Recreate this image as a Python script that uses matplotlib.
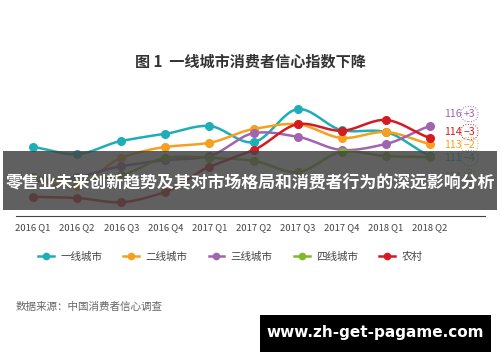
import numpy as np
import matplotlib
matplotlib.use("Agg")
import matplotlib.pyplot as plt
from matplotlib.patches import Rectangle
from matplotlib.lines import Line2D

plt.rcParams['font.family'] = ['Noto Sans CJK SC', 'DejaVu Sans']

quarters = ['2016 Q1', '2016 Q2', '2016 Q3', '2016 Q4', '2017 Q1',
            '2017 Q2', '2017 Q3', '2017 Q4', '2018 Q1', '2018 Q2']
series_names = ['一线城市', '二线城市', '三线城市', '四线城市', '农村']
tier1 = [112.5, 111.3, 113.5, 114.7, 116.0, 113.3, 118.8, 115.3, 115.0, 111.0]
tier2 = [107.0, 106.0, 110.7, 112.5, 113.2, 115.5, 116.3, 114.0, 115.0, 113.0]
tier3 = [106.7, 107.5, 109.3, 110.3, 111.0, 114.8, 114.2, 112.0, 113.0, 116.0]
tier4 = [107.5, 107.0, 107.8, 110.7, 110.7, 110.2, 108.3, 111.7, 111.0, 110.8]
rural = [104.2, 104.0, 103.3, 105.0, 109.2, 112.0, 116.3, 115.2, 117.0, 114.0]
end_labels = [('116', '+3'), ('114', '−3'), ('113', '−2'), ('111', '−4'), ('111', '0')]
colors = ['#1eaeb8', '#f5a01e', '#a064b0', '#80b82c', '#d41a22']

title = '图 1  一线城市消费者信心指数下降'
source = '数据来源：中国消费者信心调查'
banner = '零售业未来创新趋势及其对市场格局和消费者行为的深远影响分析'
watermark = 'www.zh-get-pagame.com'

W, H = 500, 362
fig = plt.figure(figsize=(W / 100, H / 100), dpi=100)
fig.patch.set_facecolor('white')

def fx(px):
    return px / W

def fy(py):
    return 1 - py / H

# axes: x-axis line at y=216 px, from x=16 to 485
ax = fig.add_axes([fx(16), fy(216), (485 - 16) / W, (216 - 100) / H])
ax.set_xlim(-0.385, 10.247)
ax.set_ylim(101, 120.33)
for s in ['top', 'right', 'left']:
    ax.spines[s].set_visible(False)
ax.spines['bottom'].set_color('#444444')
ax.spines['bottom'].set_linewidth(0.8)
ax.set_yticks([])
x = np.arange(len(quarters))
ax.set_xticks(x)
ax.set_xticklabels(quarters, fontsize=6.8, color='#444444')
ax.tick_params(axis='x', length=0, pad=5)
ax.patch.set_alpha(0)


def smooth(xs, ys, n=20):
    xs = np.asarray(xs, float)
    ys = np.asarray(ys, float)
    pts_x, pts_y = [], []
    m = np.zeros_like(ys)
    m[1:-1] = (ys[2:] - ys[:-2]) / 2.0
    m[0] = ys[1] - ys[0]
    m[-1] = ys[-1] - ys[-2]
    m *= 0.8
    for i in range(len(xs) - 1):
        t = np.linspace(0, 1, n, endpoint=False)
        h00 = 2 * t**3 - 3 * t**2 + 1
        h10 = t**3 - 2 * t**2 + t
        h01 = -2 * t**3 + 3 * t**2
        h11 = t**3 - t**2
        pts_x.append(xs[i] + t * (xs[i + 1] - xs[i]))
        pts_y.append(h00 * ys[i] + h10 * m[i] + h01 * ys[i + 1] + h11 * m[i + 1])
    pts_x.append([xs[-1]])
    pts_y.append([ys[-1]])
    return np.concatenate(pts_x), np.concatenate(pts_y)

all_series = [tier1, tier2, tier3, tier4, rural]
for vals, c in zip(all_series, colors):
    sx, sy = smooth(x, vals)
    ax.plot(sx, sy, color=c, lw=1.8, solid_capstyle='round', clip_on=False)
    ax.plot(x, vals, 'o', color=c, ms=5.5, clip_on=False)

# end labels
label_y = [114, 132, 145, 158, 177]
label_colors = ['#a064b0', '#d41a22', '#f5a01e', '#1eaeb8', '#80b82c']
for (num, chg), yy, c in zip(end_labels, label_y, label_colors):
    fig.text(fx(444), fy(yy), num, color=c, fontsize=7.6, va='center', ha='left')
    fig.text(fx(469.5), fy(yy), chg, color=c, fontsize=7.6, va='center', ha='center',
             bbox=dict(boxstyle='round,pad=0.25,rounding_size=0.7', fc='none', ec=c,
                       lw=0.7, ls=':'))

# title
fig.text(0.5, fy(62), title, fontsize=10.9, fontweight='bold', color='#333333',
         ha='center', va='center')

# legend
handles = [Line2D([0], [0], color=c, lw=1.8, marker='o', ms=4.5) for c in colors]
fig.legend(handles, series_names, loc='center left', bbox_to_anchor=(fx(38), fy(257)),
           ncol=5, frameon=False, fontsize=7.6, handlelength=1.5, handletextpad=0.6,
           columnspacing=2.0, labelcolor='#444444', borderaxespad=0, borderpad=0)

# source
fig.text(fx(16), fy(307), source, fontsize=7.6, color='#666666', ha='left', va='center')

# banner overlay
fig.patches.append(Rectangle((fx(3), fy(210)), (497 - 3) / W, (210 - 151) / H,
                             transform=fig.transFigure, facecolor='#444444',
                             alpha=0.85, edgecolor='none', zorder=5))
fig.text(0.5, fy(183), banner, fontsize=12.2, fontweight='bold', color='white',
         ha='center', va='center', zorder=6)

# watermark box
fig.patches.append(Rectangle((fx(260), fy(352)), (491 - 260) / W, (352 - 315) / H,
                             transform=fig.transFigure, facecolor='black',
                             edgecolor='none', zorder=5))
fig.text(fx(375.5), fy(333), watermark, fontsize=11, fontweight='bold', color='white',
         ha='center', va='center', family=['DejaVu Sans'], zorder=6)

fig.savefig('out.png', dpi=100, facecolor='white')
